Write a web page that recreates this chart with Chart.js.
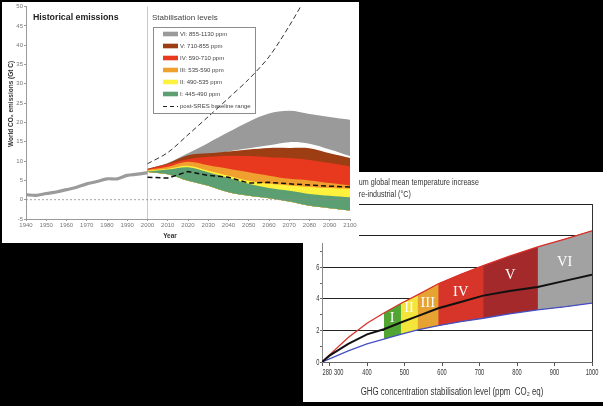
<!DOCTYPE html>
<html>
<head>
<meta charset="utf-8">
<script src="https://cdn.jsdelivr.net/npm/chart.js@4.4.1/dist/chart.umd.min.js"></script>
<style>
  body { margin: 0; background: #000; width: 603px; height: 406px; overflow: hidden; position: relative; }
  #panel1 { position: absolute; left: 2px; top: 2px; width: 357px; height: 241px; background: #fff; z-index: 2; }
  #panel2 { position: absolute; left: 303px; top: 172px; width: 300px; height: 230px; background: #fff; z-index: 1; }
  canvas { display: block; }
</style>
</head>
<body>
<div id="panel2"><canvas id="tempChart" width="300" height="230"></canvas></div>
<div id="panel1"><canvas id="emisChart" width="357" height="241"></canvas></div>
<script>
// ---------------- emissions chart (top left) ----------------
var histYears = [1940, 1945, 1950, 1955, 1960, 1965, 1970, 1975, 1980, 1985, 1990, 1995, 2000];
var histEmissions = [1.3, 1.1, 1.6, 2.0, 2.6, 3.2, 4.1, 4.7, 5.4, 5.4, 6.3, 6.6, 7.0];

var stabYears = [2000, 2010, 2020, 2030, 2040, 2050, 2060, 2070, 2080, 2090, 2100];
var baselineHigh = [9.3, 12.2, 16.8, 21.5, 26.3, 31.2, 37, 45, 54, 63, 72];
var baselineLow = [5.8, 5.6, 7.3, 6.3, 5.8, 4.3, 4.5, 4.1, 3.8, 3.5, 3.3];

// band edges, GtC
var sixHigh   = [8.0, 9.5, 12.0, 14.7, 17.5, 20.2, 22.3, 23.0, 22.2, 21.4, 20.7];
var sixLow    = [7.8, 8.5, 10.0, 11.5, 12.5, 13.3, 14.1, 14.9, 14.5, 13.0, 11.3];
var fiveHigh  = [8.0, 9.4, 11.5, 12.0, 12.5, 13.0, 13.4, 13.4, 13.3, 12.0, 10.8];
var fourHigh  = [7.9, 9.2, 10.5, 11.1, 11.4, 11.3, 11.0, 10.8, 10.3, 9.5, 8.6];
var threeHigh = [7.7, 8.5, 9.8, 8.9, 8.0, 7.1, 6.2, 5.4, 5.0, 4.3, 3.7];
var twoHigh   = [7.5, 8.0, 8.8, 7.5, 6.2, 4.9, 4.1, 3.7, 3.3, 3.0, 2.8];
var oneHigh   = [7.3, 7.8, 8.4, 7.1, 5.6, 4.1, 3.0, 2.3, 1.5, 1.0, 0.6];
var oneLow    = [7.2, 6.6, 4.9, 3.6, 1.9, 1.0, 0.4, -0.5, -1.6, -2.2, -2.8];

var levelLabels = ['VI: 855-1130 ppm', 'V: 710-855 ppm', 'IV: 590-710 ppm', 'III: 535-590 ppm', 'II: 490-535 ppm', 'I: 445-490 ppm'];
var levelColors = ['#9a9a9a', '#9d3d14', '#e8391e', '#f0a02e', '#fff23c', '#5b9f73'];

var yearTicks = [1940, 1950, 1960, 1970, 1980, 1990, 2000, 2010, 2020, 2030, 2040, 2050, 2060, 2070, 2080, 2090, 2100];
var emisTicks = [-5, 0, 5, 10, 15, 20, 25, 30, 35, 40, 45, 50];

function pts(xs, ys) {
  return xs.map(function (x, i) { return { x: x, y: ys[i] }; });
}

// each band reaches down to the bottom edge, later (lower) bands paint over it
var bandPairs = [[sixHigh, sixLow], [fiveHigh, oneLow], [fourHigh, oneLow],
                 [threeHigh, oneLow], [twoHigh, oneLow], [oneHigh, oneLow]];
var emisSets = [];
bandPairs.forEach(function (pair, i) {
  var topIdx = emisSets.length;
  emisSets.push({ data: pts(stabYears, pair[0]), borderColor: 'rgba(0,0,0,0)', borderWidth: 0,
    pointRadius: 0, fill: false, tension: 0.35, order: 100 - 2 * i });
  emisSets.push({ data: pts(stabYears, pair[1]), borderColor: 'rgba(0,0,0,0)', borderWidth: 0,
    pointRadius: 0, fill: { target: topIdx }, backgroundColor: levelColors[i], tension: 0.35, order: 99 - 2 * i });
});
// zero line
emisSets.push({ data: pts([1940, 2100], [0, 0]), borderColor: '#8a8a8a', borderWidth: 0.8,
  borderDash: [2, 2], pointRadius: 0, fill: false, order: 5 });
emisSets.push({ data: pts(stabYears, baselineHigh), borderColor: '#333', borderWidth: 1,
  borderDash: [5, 3], pointRadius: 0, fill: false, tension: 0.3, order: 2 });
emisSets.push({ data: pts(stabYears, baselineLow), borderColor: '#111', borderWidth: 1.5,
  borderDash: [5, 3], pointRadius: 0, fill: false, tension: 0, order: 1 });
emisSets.push({ data: pts(histYears, histEmissions), borderColor: '#9b9b9b', borderWidth: 3.2,
  pointRadius: 0, fill: false, tension: 0.3, order: 0 });

var emisText = {
  id: 'emisText',
  afterDraw: function (chart) {
    var ctx = chart.ctx;
    ctx.save();
    ctx.textBaseline = 'middle';
    ctx.fillStyle = '#222';
    ctx.font = 'bold 8.8px "Liberation Sans", Arial, sans-serif';
    ctx.fillText('Historical emissions', 31, 15.5);
    ctx.fillStyle = '#444';
    ctx.font = '8px "Liberation Sans", Arial, sans-serif';
    ctx.fillText('Stabilisation levels', 150, 16);

    // legend box
    ctx.strokeStyle = '#8c8c8c';
    ctx.lineWidth = 1;
    ctx.strokeRect(151.5, 25.5, 102, 86);
    ctx.font = '6px "Liberation Sans", Arial, sans-serif';
    for (var i = 0; i < levelLabels.length; i++) {
      var y = 32 + i * 12;
      ctx.fillStyle = levelColors[i];
      ctx.fillRect(161, y - 2.3, 15, 4.6);
      ctx.fillStyle = '#444';
      ctx.fillText(levelLabels[i], 178, y);
    }
    var yd = 32 + 6 * 12;
    ctx.strokeStyle = '#222';
    ctx.setLineDash([4, 3]);
    ctx.beginPath(); ctx.moveTo(161, yd + 0.5); ctx.lineTo(176, yd + 0.5); ctx.stroke();
    ctx.setLineDash([]);
    ctx.fillText('post-SRES baseline range', 178, yd);

    // axis titles
    ctx.fillStyle = '#333';
    ctx.font = 'bold 6.5px "Liberation Sans", Arial, sans-serif';
    ctx.textAlign = 'center';
    ctx.fillText('Year', 168, 234.5);
    ctx.translate(9, 102);
    ctx.rotate(-Math.PI / 2);
    ctx.fillText('World CO\u2082 emissions (Gt C)', 0, 0);
    ctx.restore();
  }
};

new Chart(document.getElementById('emisChart'), {
  type: 'line',
  data: { datasets: emisSets },
  options: {
    responsive: false,
    animation: false,
    events: [],
    layout: { padding: { left: 0, top: 4, right: 9, bottom: 0 } },
    plugins: { legend: { display: false }, tooltip: { enabled: false } },
    scales: {
      x: {
        type: 'linear', min: 1940, max: 2100,
        afterBuildTicks: function (s) { s.ticks = yearTicks.map(function (v) { return { value: v }; }); },
        afterFit: function (s) { s.height = 24; },
        ticks: { font: { size: 6, family: '"Liberation Sans", Arial' }, color: '#777', padding: 1,
          maxRotation: 0, autoSkip: false, callback: function (v) { return String(v); } },
        grid: { color: function (c) { return c.tick && c.tick.value === 2000 ? '#c9c9c9' : 'rgba(0,0,0,0)'; },
          tickColor: '#9a9a9a', tickLength: 2 },
        border: { color: '#9a9a9a' }
      },
      y: {
        type: 'linear', min: -5, max: 50,
        afterBuildTicks: function (s) { s.ticks = emisTicks.map(function (v) { return { value: v }; }); },
        afterFit: function (s) { s.width = 24; },
        ticks: { font: { size: 6, family: '"Liberation Sans", Arial' }, color: '#777', padding: 1 },
        grid: { drawOnChartArea: false, tickColor: '#9a9a9a', tickLength: 2 },
        border: { color: '#9a9a9a' }
      }
    }
  },
  plugins: [emisText]
});

// ---------------- temperature chart (bottom right) ----------------
var tempPpm  = [280, 300, 350, 400, 445, 490, 535, 590, 650, 710, 780, 855, 930, 1000];
var tempHigh = [0, 0.45, 1.55, 2.45, 3.1, 3.7, 4.25, 4.95, 5.55, 6.1, 6.7, 7.28, 7.8, 8.3];
var tempBest = [0, 0.4, 1.15, 1.75, 2.07, 2.5, 2.9, 3.4, 3.8, 4.2, 4.5, 4.75, 5.15, 5.52];
var tempLow  = [0, 0.2, 0.7, 1.15, 1.45, 1.75, 2.03, 2.3, 2.55, 2.77, 3.05, 3.3, 3.5, 3.73];

var catEdges = [445, 490, 535, 590, 710, 855, 1000];
var catNames = ['I', 'II', 'III', 'IV', 'V', 'VI'];
var catColors = ['#52a533', '#f3e53b', '#e6a232', '#d7352a', '#a3292a', '#a2a2a2'];
var catLabelPpm = [467, 512, 562, 650, 782, 927];
var catLabelTemp = [2.8, 3.4, 3.75, 4.4, 5.5, 6.3];

var ppmTicks = [280, 300, 400, 500, 600, 700, 800, 900, 1000];
var tempTicks = [0, 1, 2, 3, 4, 5, 6, 7, 8, 9, 10];
var tempLabels = [0, 2, 4, 6];
var tempGrid = [2, 4, 6, 8, 10];

function slice(lo, hi, ys) {
  var out = [];
  tempPpm.forEach(function (p, i) { if (p >= lo && p <= hi) out.push({ x: p, y: ys[i] }); });
  return out;
}

// each category runs from its lower edge to 1000, the next one is painted over it
var tempSets = [];
for (var k = 0; k < catNames.length; k++) {
  var topIdx = tempSets.length;
  tempSets.push({ data: slice(catEdges[k], 1000, tempHigh), borderColor: 'rgba(0,0,0,0)',
    borderWidth: 0, pointRadius: 0, fill: false, order: 40 - 2 * k });
  tempSets.push({ data: slice(catEdges[k], 1000, tempLow), borderColor: 'rgba(0,0,0,0)',
    borderWidth: 0, pointRadius: 0, fill: { target: topIdx }, backgroundColor: catColors[k], order: 39 - 2 * k });
}
tempSets.push({ data: pts(tempPpm, tempHigh), borderColor: '#d8312b', borderWidth: 1.3, pointRadius: 0, fill: false, order: 2 });
tempSets.push({ data: pts(tempPpm, tempLow), borderColor: '#4650c2', borderWidth: 1.3, pointRadius: 0, fill: false, order: 1 });
tempSets.push({ data: pts(tempPpm, tempBest), borderColor: '#111', borderWidth: 2, pointRadius: 0, fill: false, order: 0 });

// narrow text, the original figure uses a condensed face
function squish(ctx, text, x, y, sx, align) {
  ctx.save();
  ctx.translate(x, y);
  ctx.scale(sx, 1);
  ctx.textAlign = align || 'left';
  ctx.fillText(text, 0, 0);
  ctx.restore();
}

var tempText = {
  id: 'tempText',
  afterDatasetsDraw: function (chart) {
    var ctx = chart.ctx, xs = chart.scales.x, ys = chart.scales.y;
    ctx.save();
    ctx.fillStyle = '#fff';
    ctx.textAlign = 'center';
    ctx.textBaseline = 'middle';
    ctx.font = '14.5px "Liberation Serif", "DejaVu Serif", serif';
    for (var i = 0; i < catNames.length; i++) {
      ctx.fillText(catNames[i], xs.getPixelForValue(catLabelPpm[i]), ys.getPixelForValue(catLabelTemp[i]));
    }
    ctx.restore();
  },
  afterDraw: function (chart) {
    var ctx = chart.ctx, xs = chart.scales.x, ys = chart.scales.y;
    ctx.save();
    ctx.fillStyle = '#333';
    ctx.textBaseline = 'middle';
    ctx.font = '9.5px "Liberation Sans", Arial, sans-serif';
    squish(ctx, 'Equilibrium global mean temperature increase', 30.5, 10, 0.75);
    squish(ctx, 'above pre-industrial (\u00B0C)', 30.5, 22, 0.75);
    ctx.font = '10px "Liberation Sans", Arial, sans-serif';
    squish(ctx, 'GHG concentration stabilisation level (ppm  CO\u2082 eq)', 149, 220, 0.79, 'center');

    ctx.font = '9.5px "Liberation Sans", Arial, sans-serif';
    var yb = chart.chartArea.bottom + 10.5;
    ppmTicks.forEach(function (v) {
      var px = xs.getPixelForValue(v);
      if (v === 280) squish(ctx, String(v), px + 0.5, yb, 0.6, 'left');
      else if (v === 300) squish(ctx, String(v), px + 4.5, yb, 0.6, 'left');
      else squish(ctx, String(v), px, yb, 0.6, 'center');
    });
    tempLabels.forEach(function (v) {
      squish(ctx, String(v), chart.chartArea.left - 2.5, ys.getPixelForValue(v), 0.6, 'right');
    });
    ctx.restore();
  }
};

new Chart(document.getElementById('tempChart'), {
  type: 'line',
  data: { datasets: tempSets },
  options: {
    responsive: false,
    animation: false,
    events: [],
    layout: { padding: { left: 0, top: 32, right: 11, bottom: 0 } },
    plugins: { legend: { display: false }, tooltip: { enabled: false } },
    scales: {
      x: {
        type: 'linear', min: 280, max: 1000,
        afterBuildTicks: function (s) { s.ticks = ppmTicks.map(function (v) { return { value: v }; }); },
        afterFit: function (s) { s.height = 40; },
        ticks: { display: false },
        grid: { color: function (c) { return c.tick && c.tick.value === 1000 ? '#333' : 'rgba(0,0,0,0)'; },
          tickColor: '#555', tickLength: 4 },
        border: { color: '#666' }
      },
      y: {
        type: 'linear', min: 0, max: 10,
        afterBuildTicks: function (s) { s.ticks = tempTicks.map(function (v) { return { value: v }; }); },
        afterFit: function (s) { s.width = 19; },
        ticks: { display: false },
        grid: { color: function (c) { return c.tick && tempGrid.indexOf(c.tick.value) >= 0 ? '#222' : 'rgba(0,0,0,0)'; },
          tickColor: '#666', tickLength: 2 },
        border: { color: '#888' }
      }
    }
  },
  plugins: [tempText]
});
</script>
</body>
</html>
